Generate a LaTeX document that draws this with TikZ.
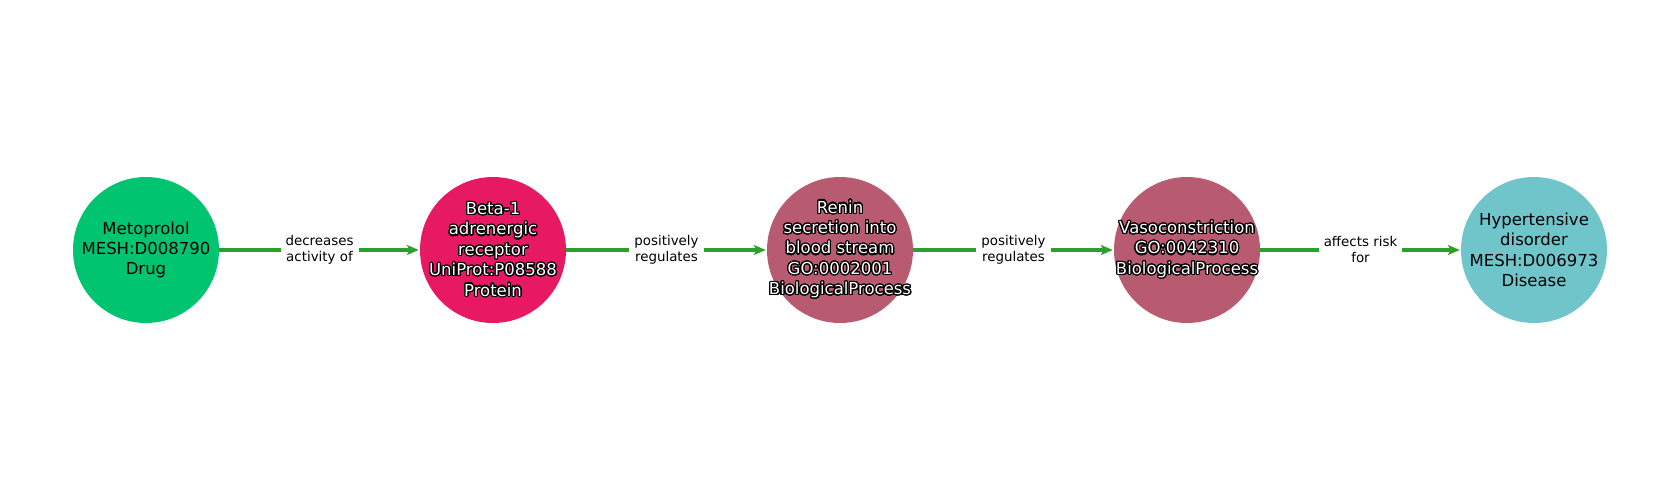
\documentclass[tikz,border=0pt]{standalone}
\usepackage{fontspec}
\setmainfont{DejaVu Sans}
\usepackage{contour}
\contourlength{1.2pt}
\contournumber{24}
\usetikzlibrary{arrows.meta}
\definecolor{cdrug}{RGB}{0,196,112}
\definecolor{cprot}{RGB}{232,25,99}
\definecolor{cbio}{RGB}{184,90,112}
\definecolor{cdis}{RGB}{112,197,203}
\definecolor{cedge}{RGB}{44,160,44}
\newcommand{\ol}[1]{\contour{black}{#1}}
\begin{document}
\begin{tikzpicture}[x=1pt,y=-1pt,
  ent/.style={circle,minimum size=146pt,inner sep=0pt},
  ntext/.style={align=center,inner sep=0pt,font=\fontsize{16.5}{20.4}\selectfont},
  light/.style={ntext,text=black},
  dark/.style={ntext,text=white},
  rel/.style={draw=cedge,line width=3.2pt,-{Stealth[length=12pt,width=10pt,inset=3pt]},shorten >=1pt},
  lbl/.style={fill=white,inner sep=5pt,align=center,text=black,
    font=\fontsize{13.4}{16}\selectfont}]
\useasboundingbox (0,0) rectangle (1680,500);
\node[ent,fill=cdrug,label={[light]center:{Metoprolol\\MESH:D008790\\Drug}}] (a) at (146,250) {};
\node[ent,fill=cprot,label={[dark]center:{\ol{Beta-1}\\\ol{adrenergic}\\\ol{receptor}\\\ol{UniProt:P08588}\\\ol{Protein}}}] (b) at (493,250) {};
\node[ent,fill=cbio,label={[dark]center:{\ol{Renin}\\\ol{secretion into}\\\ol{blood stream}\\\ol{GO:0002001}\\\ol{BiologicalProcess}}}] (c) at (840,250) {};
\node[ent,fill=cbio,label={[dark]center:{\ol{Vasoconstriction}\\\ol{GO:0042310}\\\ol{BiologicalProcess}}}] (d) at (1187,250) {};
\node[ent,fill=cdis,label={[light]center:{Hypertensive\\disorder\\MESH:D006973\\Disease}}] (e) at (1534,250) {};
\draw[rel] (a) -- node[lbl] {decreases\\activity of} (b);
\draw[rel] (b) -- node[lbl] {positively\\regulates} (c);
\draw[rel] (c) -- node[lbl] {positively\\regulates} (d);
\draw[rel] (d) -- node[lbl] {affects risk\\for} (e);
\end{tikzpicture}
\end{document}
